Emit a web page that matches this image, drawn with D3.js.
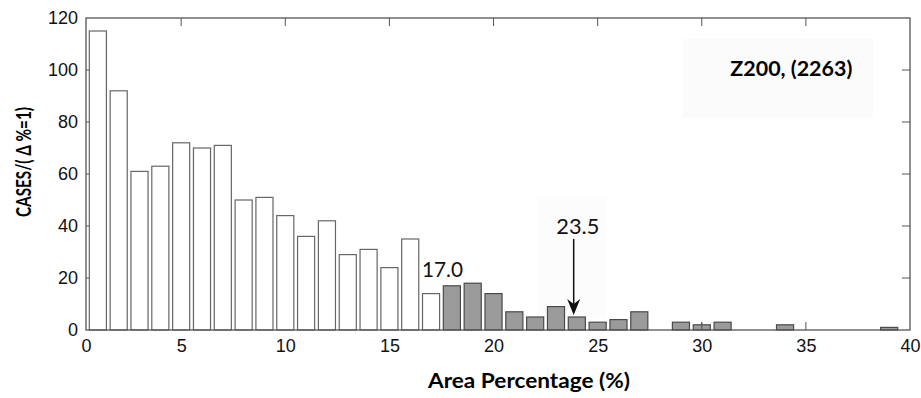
<!DOCTYPE html>
<html><head><meta charset="utf-8">
<script src="https://cdn.jsdelivr.net/npm/d3@7"></script>
<style>
html,body{margin:0;padding:0;background:#fff;}
svg{display:block;}
</style></head>
<body>
<svg id="chart" width="921" height="398"></svg>
<script>
// ---- data ----
const binCenters = [1,2,3,4,5,6,7,8,9,10,11,12,13,14,15,16,17,18,19,20,21,22,23,24,25,26,27,29,30,31,34,39];
const cases      = [115,92,61,63,72,70,71,50,51,44,36,42,29,31,24,35,14,17,18,14,7,5,9,5,3,4,7,3,2,3,2,1];
const thresholdBin = 18;          // bins >= this are shaded grey
const xTickValues = [0,5,10,15,20,25,30,35,40];
const yTickValues = [0,20,40,60,80,100,120];
const xLabel = "Area Percentage (%)";
const yLabel = "CASES/( Δ %=1)";
const legendText = "Z200, (2263)";
const annot1 = {text:"17.0", x:17.55, y:20.4};
const annot2 = {text:"23.5", x:24.05, y:36.9, arrowX:23.85, arrowFrom:35, arrowTo:5.8};

// ---- layout ----
const svg = d3.select("#chart");
const xMin = 0.43;
const x = d3.scaleLinear().domain([xMin, 40]).range([86, 910]);
const y = d3.scaleLinear().domain([0, 120]).range([330, 18]);
const axisColor = "#555";
const tickFont = "'Liberation Sans', Arial, sans-serif";
const textFont = "Lato, 'Open Sans', sans-serif";

// legend background & annotation background (faint)
svg.append("rect").attr("x",683).attr("y",39).attr("width",190).attr("height",79).attr("fill","#fbfbfb");
svg.append("rect").attr("x",537).attr("y",197).attr("width",69).attr("height",120).attr("fill","#fcfcfc");

// inward ticks (left & bottom drawn before bars)
const tl = 8;
const gTicks = svg.append("g").attr("stroke", axisColor).attr("stroke-width",1);
yTickValues.filter(v=>v>0 && v<120).forEach(v=>{
  gTicks.append("line").attr("x1",x(xMin)).attr("x2",x(xMin)+tl).attr("y1",y(v)).attr("y2",y(v));
  gTicks.append("line").attr("x1",x(40)-tl).attr("x2",x(40)).attr("y1",y(v)).attr("y2",y(v));
});
xTickValues.filter(v=>v>0 && v<40).forEach(v=>{
  gTicks.append("line").attr("x1",x(v)).attr("x2",x(v)).attr("y1",y(0)).attr("y2",y(0)-tl);
  gTicks.append("line").attr("x1",x(v)).attr("x2",x(v)).attr("y1",y(120)).attr("y2",y(120)+tl);
});

// bars
const halfW = 0.41;
svg.append("g").selectAll("rect").data(binCenters.map((c,i)=>({c, v:cases[i]})))
  .join("rect")
  .attr("x", d=>x(d.c-halfW))
  .attr("width", d=>x(d.c+halfW)-x(d.c-halfW))
  .attr("y", d=>y(d.v))
  .attr("height", d=>y(0)-y(d.v))
  .attr("fill", d=> d.c>=thresholdBin ? "#9b9b9b" : "#fff")
  .attr("stroke", d=> d.c>=thresholdBin ? "#4a4a4a" : "#666")
  .attr("stroke-width", 1.2);

// tick at 30 appears above small bar
svg.append("line").attr("x1",x(30)).attr("x2",x(30)).attr("y1",y(0)).attr("y2",y(0)-tl).attr("stroke",axisColor);

// frame
svg.append("rect").attr("x",x(xMin)).attr("y",y(120)).attr("width",x(40)-x(xMin)).attr("height",y(0)-y(120))
  .attr("fill","none").attr("stroke",axisColor).attr("stroke-width",1.3);

// tick labels via axes
const xAxis = d3.axisBottom(x).tickValues(xTickValues.map(v=>v===0?xMin:v)).tickSize(0).tickPadding(9)
  .tickFormat(d=> d===xMin ? "0" : d);
const gx = svg.append("g").attr("transform",`translate(0,${y(0)})`).call(xAxis);
gx.select(".domain").remove();
gx.selectAll("text").attr("font-family",tickFont).attr("font-size",18).attr("fill","#111");

const yAxis = d3.axisLeft(y).tickValues(yTickValues).tickSize(0).tickPadding(8);
const gy = svg.append("g").attr("transform",`translate(${x(xMin)},0)`).call(yAxis);
gy.select(".domain").remove();
gy.selectAll("text").attr("font-family",tickFont).attr("font-size",18).attr("fill","#111");

// axis titles
svg.append("text").attr("x",529).attr("y",388).attr("text-anchor","middle")
  .attr("font-family",textFont).attr("font-weight","bold").attr("font-size",20)
  .attr("textLength",202).attr("lengthAdjust","spacingAndGlyphs").text(xLabel);
svg.append("text").attr("transform","translate(31,162) rotate(-90)").attr("text-anchor","middle")
  .attr("font-family",textFont).attr("font-weight","bold").attr("font-size",20)
  .attr("textLength",110).attr("lengthAdjust","spacingAndGlyphs").text(yLabel);

// legend text
svg.append("text").attr("x",x(34.3)).attr("y",y(97.7)).attr("text-anchor","middle")
  .attr("font-family",textFont).attr("font-weight","bold").attr("font-size",21)
  .attr("textLength",122).attr("lengthAdjust","spacingAndGlyphs").text(legendText);

// annotations
svg.append("text").attr("x",x(annot1.x)).attr("y",y(annot1.y)).attr("text-anchor","middle")
  .attr("font-family",textFont).attr("font-size",21).attr("fill","#111")
  .attr("textLength",41).attr("lengthAdjust","spacingAndGlyphs").text(annot1.text);
svg.append("text").attr("x",x(annot2.x)).attr("y",y(annot2.y)).attr("text-anchor","middle")
  .attr("font-family",textFont).attr("font-size",21).attr("fill","#111")
  .attr("textLength",43).attr("lengthAdjust","spacingAndGlyphs").text(annot2.text);

const ax = x(annot2.arrowX), ay1 = y(annot2.arrowFrom), ay2 = y(annot2.arrowTo);
svg.append("line").attr("x1",ax).attr("x2",ax).attr("y1",ay1).attr("y2",ay2-6).attr("stroke","#111").attr("stroke-width",1.5);
svg.append("path").attr("d",`M${ax},${ay2} L${ax-6.5},${ay2-16} L${ax},${ay2-11} L${ax+6.5},${ay2-16} Z`).attr("fill","#111");
</script>
</body></html>
